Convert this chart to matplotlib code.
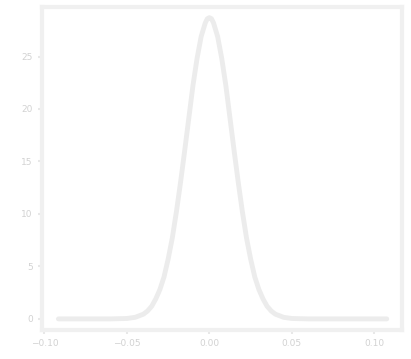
import matplotlib
matplotlib.use("Agg")
import matplotlib.pyplot as plt

# values (density curve)
x_vals = [-0.0915, -0.06, -0.05, -0.045, -0.04, -0.0375, -0.035, -0.0325, -0.03,
          -0.0275, -0.025, -0.0225, -0.02, -0.0175, -0.015, -0.0125, -0.01,
          -0.0075, -0.005, -0.0025, -0.00125, 0.0, 0.00125, 0.0025, 0.005, 0.0075,
          0.01, 0.0125, 0.015, 0.0175, 0.02, 0.0225, 0.025, 0.0275, 0.03, 0.0325,
          0.035, 0.0375, 0.04, 0.045, 0.05, 0.06, 0.1075]
y_vals = [0.0, 0.0, 0.04, 0.15, 0.45, 0.75, 1.2, 1.9, 2.8,
          4.0, 5.7, 7.7, 10.2, 13.0, 16.0, 19.1, 22.2,
          24.8, 26.9, 28.2, 28.6, 28.7, 28.6, 28.2, 26.9, 24.8,
          22.2, 19.1, 16.0, 13.0, 10.2, 7.7, 5.7, 4.0, 2.8, 1.9,
          1.2, 0.75, 0.45, 0.15, 0.04, 0.0, 0.0]
x_ticks = [-0.10, -0.05, 0.00, 0.05, 0.10]
x_tick_labels = ["−0.10", "−0.05", "0.00", "0.05", "0.10"]
y_ticks = [0, 5, 10, 15, 20, 25]

fig = plt.figure(figsize=(4.11, 3.59), dpi=100)
ax = fig.add_axes([0.102, 0.081, 0.876, 0.899])
ax.plot(x_vals, y_vals, color="#ececec", linewidth=3.5,
        solid_capstyle="round", solid_joinstyle="round")
ax.set_xlim(-0.1015, 0.1167)
ax.set_ylim(-1.05, 29.7)
ax.set_xticks(x_ticks)
ax.set_xticklabels(x_tick_labels)
ax.set_yticks(y_ticks)
for s in ax.spines.values():
    s.set_color("#f0f0f0")
    s.set_linewidth(3)
ax.tick_params(colors="#e8e8e8", labelcolor="#d2d2d2", labelsize=6.5, length=3, width=1.5)
fig.savefig("out.png", dpi=100)
